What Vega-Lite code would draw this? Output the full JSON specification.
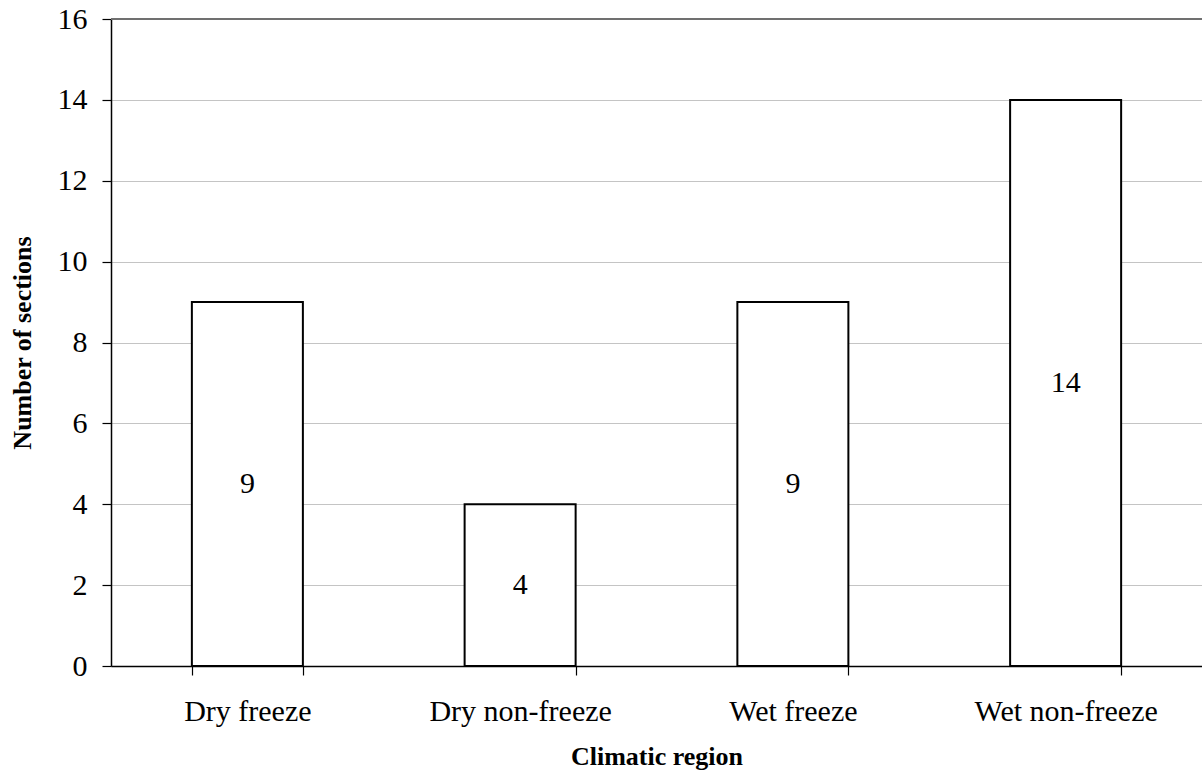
{
  "$schema": "https://vega.github.io/schema/vega-lite/v6.json",
  "autosize": "none",
  "width": 1091,
  "height": 647,
  "padding": {"left": 111, "top": 19, "right": 0, "bottom": 110},
  "background": "white",
  "config": {
    "view": {"stroke": null},
    "font": "Liberation Serif",
    "axis": {
      "labelFont": "Liberation Serif",
      "titleFont": "Liberation Serif",
      "labelFontSize": 30,
      "labelLimit": 0,
      "titleFontSize": 26,
      "titleFontWeight": "bold",
      "labelColor": "black",
      "titleColor": "black",
      "domainColor": "black",
      "tickColor": "black",
      "domainWidth": 1.5,
      "tickWidth": 1.2
    }
  },
  "data": {
    "values": [
      {"region": "Dry freeze", "sections": 9},
      {"region": "Dry non-freeze", "sections": 4},
      {"region": "Wet freeze", "sections": 9},
      {"region": "Wet non-freeze", "sections": 14}
    ]
  },
  "layer": [
    {
      "mark": {"type": "bar", "fill": "white", "stroke": "black", "strokeWidth": 2},
      "encoding": {
        "x": {
          "field": "region", "type": "nominal", "sort": null,
          "scale": {"paddingInner": 0.593, "paddingOuter": 0.2965},
          "axis": {
            "title": "Climatic region", "labelAngle": 0, "tickBand": "extent",
            "tickSize": 9, "labelPadding": 21, "titlePadding": 17
          }
        },
        "y": {
          "field": "sections", "type": "quantitative",
          "scale": {"domain": [0, 16], "nice": false},
          "axis": {
            "title": "Number of sections", "values": [0, 2, 4, 6, 8, 10, 12, 14, 16],
            "gridColor": "#c4c4c4", "gridWidth": 1, "tickSize": 9,
            "labelPadding": 15, "titlePadding": 22
          }
        }
      }
    },
    {
      "mark": {"type": "rule", "color": "#707070", "strokeWidth": 1.5},
      "encoding": {"y": {"datum": 16, "type": "quantitative"}}
    },
    {
      "transform": [{"calculate": "datum.sections / 2", "as": "label_y"}],
      "mark": {"type": "text", "font": "Liberation Serif", "fontSize": 30, "color": "black", "baseline": "middle"},
      "encoding": {
        "x": {"field": "region", "type": "nominal", "sort": null},
        "y": {"field": "label_y", "type": "quantitative"},
        "text": {"field": "sections", "type": "quantitative"}
      }
    }
  ]
}
